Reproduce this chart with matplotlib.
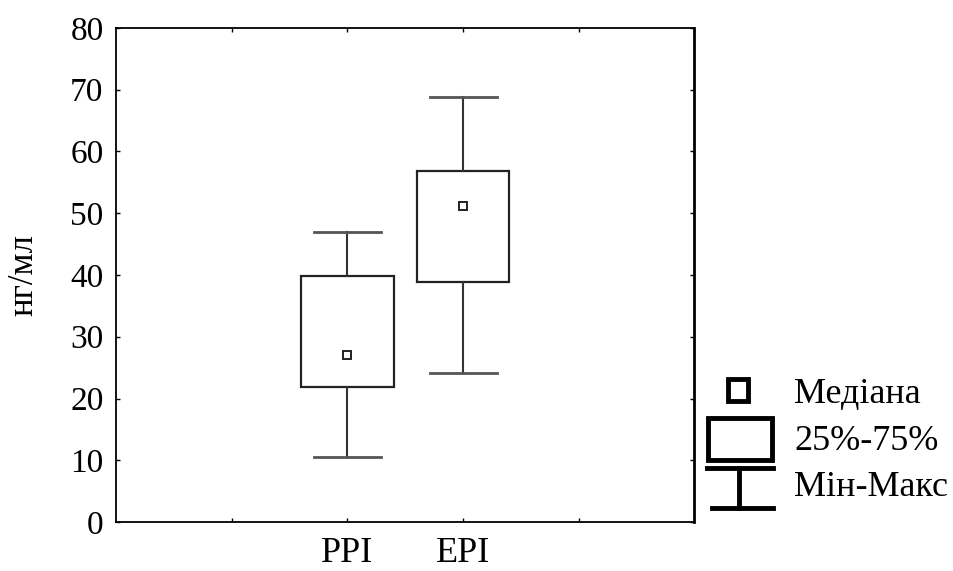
import matplotlib
matplotlib.use("Agg")
import matplotlib.pyplot as plt
from matplotlib.patches import Rectangle
from matplotlib.lines import Line2D

plt.rcParams['font.family'] = ['Liberation Serif', 'DejaVu Serif']

groups = ['PPI', 'EPI']
positions = [2, 3]
mins = [10.6, 24.1]
q1 = [21.9, 38.8]
medians = [27.0, 51.1]
q3 = [39.8, 56.8]
maxs = [46.9, 68.8]

box_w = 0.8
cap_w = 0.58

fig = plt.figure(figsize=(9.54, 5.71), dpi=100)
ax = fig.add_axes([0.1216, 0.0858, 0.6063, 0.8652])

for x, lo, a, m, b, hi in zip(positions, mins, q1, medians, q3, maxs):
    ax.add_patch(Rectangle((x - box_w / 2, a), box_w, b - a, fill=False,
                           edgecolor='#222222', lw=1.6, zorder=2))
    ax.plot([x, x], [lo, a], color='#333333', lw=1.5)
    ax.plot([x, x], [b, hi], color='#333333', lw=1.5)
    ax.plot([x - cap_w / 2, x + cap_w / 2], [lo, lo], color='#555555', lw=2)
    ax.plot([x - cap_w / 2, x + cap_w / 2], [hi, hi], color='#555555', lw=2)
    ax.plot(x, m, marker='s', ms=5.5, mfc='white', mec='#222222', mew=1.4)

ax.set_xlim(0, 5)
ax.set_ylim(0, 80)
ax.set_xticks([1, 2, 3, 4])
ax.set_xticklabels(['', 'PPI', 'EPI', ''])
ax.set_yticks(range(0, 81, 10))
ax.tick_params(direction='in', length=3, width=1, top=True, right=True)
ax.tick_params(axis='y', labelsize=24, pad=9)
ax.tick_params(axis='x', labelsize=26, pad=11)
for s in ax.spines.values():
    s.set_linewidth(1.3)
ax.spines['right'].set_linewidth(2)
ax.set_ylabel('нг/мл', fontsize=25)
ax.yaxis.set_label_coords(-0.13, 0.5)

# legend drawn by hand on the right
fig.add_artist(Rectangle((728 / 954, 1 - 401 / 571), 20 / 954, 22 / 571,
                         fill=False, edgecolor='black', lw=3.5))
fig.add_artist(Rectangle((708 / 954, 1 - 460 / 571), 64 / 954, 42 / 571,
                         fill=False, edgecolor='black', lw=3.5))
fig.add_artist(Line2D([707 / 954, 773 / 954], [1 - 468 / 571, 1 - 468 / 571],
                      color='black', lw=3.5))
fig.add_artist(Line2D([739 / 954, 739 / 954], [1 - 468 / 571, 1 - 508 / 571],
                      color='black', lw=3.5))
fig.add_artist(Line2D([712 / 954, 773 / 954], [1 - 508 / 571, 1 - 508 / 571],
                      color='black', lw=3.5))
legend_labels = ['Медіана', '25%-75%', 'Мін-Макс']
for lbl, yy in zip(legend_labels, [395, 442, 488]):
    fig.text(794 / 954, 1 - yy / 571, lbl, fontsize=26, va='center', ha='left')

fig.savefig('out.png', dpi=100)
